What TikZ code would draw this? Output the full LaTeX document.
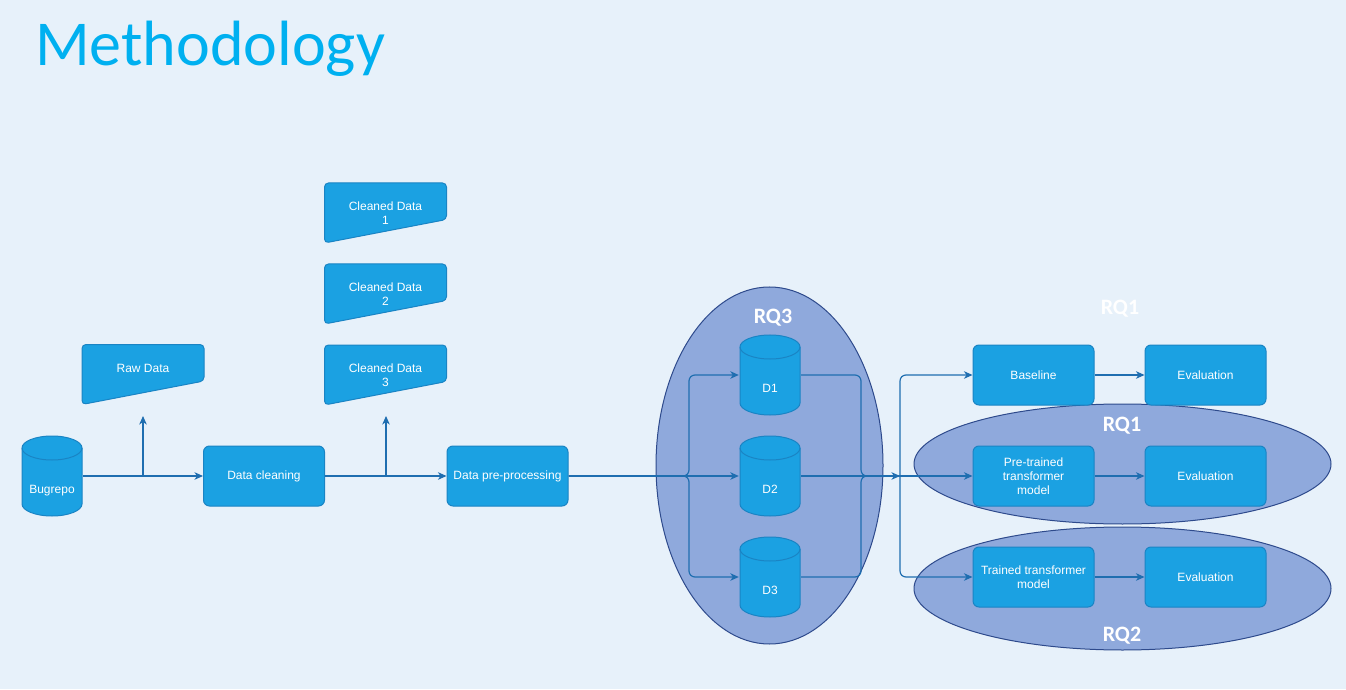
\documentclass[tikz,border=0pt]{standalone}
\usepackage{fontspec}
\setmainfont{Liberation Sans}
\newfontfamily\carlito{Carlito}
\usetikzlibrary{
  arrows.meta,
  positioning,
  calc,
  shapes.geometric
}
\definecolor{mBack}{HTML}{E7F1FA}
\definecolor{mTitle}{HTML}{00B0F0}
\definecolor{mBox}{HTML}{1BA1E2}
\definecolor{mBoxLine}{HTML}{1A84C4}
\definecolor{mArrow}{HTML}{1F6EB0}
\definecolor{mRQ}{HTML}{8FA9DC}
\definecolor{mRQLine}{HTML}{2E4A8C}
\tikzset{
  boxfont/.style={font=\fontsize{12}{14}\selectfont, text=white, align=center},
  stepbox/.style={
    boxfont, draw=mBoxLine, fill=mBox, rounded corners=6pt, line width=1pt,
    minimum width=121pt, minimum height=60pt, inner sep=2pt
  },
  dbnode/.style={
    boxfont, minimum width=62pt, minimum height=82pt, inner sep=0pt,
    text height=34.6pt, text depth=0pt,
    path picture={
      \path[fill=mBox, draw=mBoxLine, line width=1pt]
        ([shift={(-30pt,28pt)}]path picture bounding box.center)
        arc[start angle=180, end angle=0, x radius=30pt, y radius=12pt]
        -- ++(0,-56pt)
        arc[start angle=0, end angle=-180, x radius=30pt, y radius=12pt] -- cycle;
      \draw[mBoxLine, line width=1pt]
        ([shift={(-30pt,28pt)}]path picture bounding box.center)
        arc[start angle=180, end angle=360, x radius=30pt, y radius=12pt];
    }
  },
  datain/.style={
    boxfont, minimum width=123pt, minimum height=61pt, inner sep=0pt,
    path picture={
      \path[fill=mBox, draw=mBoxLine, line width=1pt, rounded corners=4pt]
        ([shift={(0.5pt,-0.5pt)}]path picture bounding box.north west)
        -- ([shift={(-0.5pt,-0.5pt)}]path picture bounding box.north east)
        -- ([shift={(-0.5pt,24pt)}]path picture bounding box.south east)
        -- ([shift={(0.5pt,0.5pt)}]path picture bounding box.south west) -- cycle;
    }
  },
  rqzone/.style={draw=mRQLine, fill=mRQ, ellipse, line width=1pt, inner sep=0pt},
  rqtag/.style={font=\carlito\bfseries\fontsize{22}{24}\selectfont, text=white},
  flow/.style={-{Stealth[length=8.5pt, width=7.5pt, inset=2.5pt]}, line width=1.2pt, draw=mArrow, rounded corners=6pt},
  feed/.style={line width=1.2pt, draw=mArrow, rounded corners=6pt}
}
\begin{document}
\begin{tikzpicture}[x=1pt, y=1pt, node distance=50pt]
  \fill[mBack] (0,0) rectangle (1346,689);
  \useasboundingbox (0,0) rectangle (1346,689);

  \node[anchor=base west, text=mTitle, font=\carlito\fontsize{64}{70}\selectfont, inner sep=0pt] (title) at (35,623) {Methodology};

  % research question zones
  \node[rqzone, minimum width=227pt, minimum height=357pt] (rq3zone) at (769.5,223.5) {};
  \node[rqzone, minimum width=417pt, minimum height=120pt] (rq1zone) at (1122.5,225) {};
  \node[rqzone, minimum width=417pt, minimum height=123pt] (rq2zone) at (1122.5,100.5) {};
  \node[rqtag] (rq3) at (773,371) {RQ3};
  \node[rqtag] (rq1top) at (1120,380) {RQ1};
  \node[rqtag] (rq1) at (1122,263) {RQ1};
  \node[rqtag] (rq2) at (1122,53) {RQ2};

  % pipeline
  \node[dbnode] (bug) at (52,213) {Bugrepo};
  \node[datain, text height=8.6pt, text depth=12pt] (raw) at (143,314.5) {Raw Data};
  \node[stepbox] (clean) at (264,213) {Data cleaning};
  \node[datain] (cd1) at (385.5,476) {Cleaned Data\\1};
  \node[datain] (cd2) at (385.5,395) {Cleaned Data\\2};
  \node[datain] (cd3) at (385.5,314) {Cleaned Data\\3};
  \node[stepbox] (pre) at (507.5,213) {Data pre-processing};

  \node[dbnode] (d1) at (770,314) {D1};
  \node[dbnode] (d2) at (770,213) {D2};
  \node[dbnode] (d3) at (770,112) {D3};

  \node[stepbox] (base) at (1033.5,314) {Baseline};
  \node[stepbox, right=of base] (eval1) {Evaluation};
  \node[stepbox] (pretr) at (1033.5,213) {Pre-trained\\transformer\\model};
  \node[stepbox, right=of pretr] (eval2) {Evaluation};
  \node[stepbox] (trained) at (1033.5,112) {Trained transformer\\model};
  \node[stepbox, right=of trained] (eval3) {Evaluation};

  \coordinate (rawtip) at (143,273);
  \coordinate (cleantip) at (386,273);
  \coordinate (split) at (689,213);
  \coordinate (merge) at (861,213);
  \coordinate (fork) at (900,213);

  \draw[flow] (bug) -- (clean);
  \draw[flow] (rawtip |- bug) -- (rawtip);
  \draw[flow] (clean) -- (pre);
  \draw[flow] (cleantip |- clean) -- (cleantip);

  \draw[flow] (pre.east) -- (split) |- (d1);
  \draw[flow] (pre.east) -- (d2);
  \draw[flow] (pre.east) -- (split) |- (d3);

  \draw[feed] (d1) -| (merge) -- (fork);
  \draw[feed] (d3) -| (merge) -- (fork);
  \draw[flow] (d2) -- (fork);

  \draw[flow] (fork) |- (base);
  \draw[flow] (fork) -- (pretr);
  \draw[flow] (fork) |- (trained);

  \draw[flow] (base) -- (eval1);
  \draw[flow] (pretr) -- (eval2);
  \draw[flow] (trained) -- (eval3);
\end{tikzpicture}
\end{document}
